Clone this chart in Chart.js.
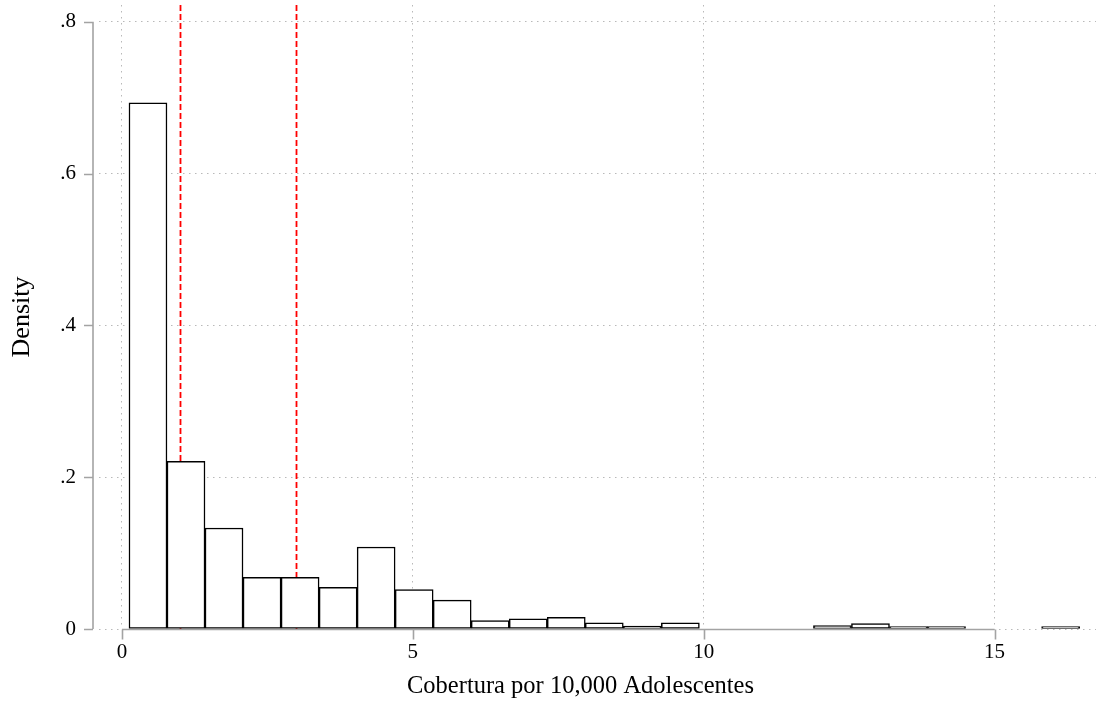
<!DOCTYPE html>
<html>
<head>
<meta charset="utf-8">
<script src="https://cdn.jsdelivr.net/npm/chart.js@4.4.1/dist/chart.umd.min.js"></script>
<style>
  html, body { margin: 0; padding: 0; background: #fff; }
  canvas { display: block; }
</style>
</head>
<body>
<canvas id="histo" width="1096" height="709"></canvas>
<script>
// bordes de las barras del histograma (25 barras de igual ancho)
const binEdges = [0.12, 0.774, 1.427, 2.081, 2.735, 3.389, 4.042, 4.696, 5.350, 6.003,
  6.657, 7.311, 7.964, 8.618, 9.272, 9.926, 10.579, 11.233, 11.887, 12.540,
  13.194, 13.848, 14.501, 15.155, 15.809, 16.463];
// densidad de cada barra (0 = sin barra)
const density = [0.693, 0.221, 0.133, 0.068, 0.068, 0.055, 0.108, 0.052, 0.038, 0.011,
  0.0135, 0.0155, 0.008, 0.004, 0.008, 0, 0, 0, 0.0044, 0.007,
  0.0022, 0.0022, 0, 0, 0.0022];

const xTicks = [0, 5, 10, 15];
const yTicks = [0, 0.2, 0.4, 0.6, 0.8];
const yTickLabels = ['0', '.2', '.4', '.6', '.8'];
const refLines = [1, 3];   // lineas rojas punteadas
const xTitle = 'Cobertura por 10,000 Adolescentes';
const yTitle = 'Density';

const serif = 'Liberation Serif';
const axisGrey = '#a3a3a3';
const gridGrey = '#b9b9b9';

// puntos de las barras: centro de cada intervalo
const bars = density.map((d, i) => ({
  x: (binEdges[i] + binEdges[i + 1]) / 2,
  y: d > 0 ? d : null
}));

// lineas de referencia (detras de las barras), ejes estilo Stata y titulo x
const stataStuff = {
  id: 'stataStuff',
  beforeDatasetsDraw(chart) {
    const { ctx, chartArea, scales: { x } } = chart;
    ctx.save();
    ctx.strokeStyle = '#ff0000';
    ctx.lineWidth = 1.8;
    ctx.setLineDash([6, 3]);
    refLines.forEach(v => {
      const px = Math.round(x.getPixelForValue(v)) + 0.5;
      ctx.beginPath();
      ctx.moveTo(px, chartArea.top);
      ctx.lineTo(px, chartArea.bottom);
      ctx.stroke();
    });
    ctx.restore();
  },
  afterDraw(chart) {
    const { ctx, chartArea, scales: { x, y } } = chart;
    ctx.save();
    ctx.strokeStyle = axisGrey;
    ctx.lineWidth = 1.6;
    ctx.setLineDash([]);

    // eje y, separado un poco del area del grafico
    const ax = chartArea.left - 6;
    ctx.beginPath();
    ctx.moveTo(ax, y.getPixelForValue(yTicks[yTicks.length - 1]));
    ctx.lineTo(ax, y.getPixelForValue(0));
    yTicks.forEach(v => {
      const py = Math.round(y.getPixelForValue(v)) + 0.5;
      ctx.moveTo(ax, py);
      ctx.lineTo(ax - 9, py);
    });
    ctx.stroke();

    // eje x
    const ay = Math.round(y.getPixelForValue(0)) + 0.5;
    ctx.beginPath();
    ctx.moveTo(x.getPixelForValue(xTicks[0]), ay);
    ctx.lineTo(x.getPixelForValue(xTicks[xTicks.length - 1]), ay);
    xTicks.forEach(v => {
      const px = Math.round(x.getPixelForValue(v)) + 0.5;
      ctx.moveTo(px, ay);
      ctx.lineTo(px, ay + 10);
    });
    ctx.stroke();

    // titulo del eje x
    ctx.fillStyle = '#000';
    ctx.font = '24.5px "' + serif + '"';
    ctx.textAlign = 'center';
    ctx.textBaseline = 'alphabetic';
    ctx.fillText(xTitle, 580.5, 693);
    ctx.restore();
  }
};

const ctx = document.getElementById('histo').getContext('2d');
const chart = new Chart(ctx, {
  type: 'bar',
  data: {
    datasets: [{
      label: yTitle,
      data: bars,
      backgroundColor: '#ffffff',
      borderColor: '#000000',
      borderWidth: 1.5,
      borderSkipped: false,
      minBarLength: 2.5,
      barPercentage: 1,
      categoryPercentage: 1
    }]
  },
  options: {
    responsive: false,
    animation: false,
    devicePixelRatio: 1,
    layout: { padding: { top: 5, left: 0, right: 0, bottom: 0 } },
    plugins: {
      legend: { display: false },
      tooltip: { enabled: false }
    },
    scales: {
      x: {
        type: 'linear',
        offset: false,
        min: -0.395,
        max: 16.744,
        afterFit: s => {
          s.height = 80;
          s.paddingLeft = 0;
          s.paddingRight = 0;
        },
        afterBuildTicks: s => { s.ticks = xTicks.map(v => ({ value: v })); },
        grid: { color: gridGrey, lineWidth: 1, drawTicks: false, offset: false },
        border: { display: false, dash: [1.5, 4.5] },
        ticks: {
          color: '#000',
          padding: 11,
          maxRotation: 0,
          font: { family: serif, size: 21 },
          callback: v => String(v)
        }
      },
      y: {
        min: 0,
        max: 0.822,
        afterFit: s => {
          s.width = 99;
          s.paddingTop = 0;
          s.paddingBottom = 0;
        },
        afterBuildTicks: s => { s.ticks = yTicks.map(v => ({ value: v })); },
        grid: { color: gridGrey, lineWidth: 1, drawTicks: false },
        border: { display: false, dash: [1.5, 4.5] },
        title: {
          display: true,
          text: yTitle,
          color: '#000',
          font: { family: serif, size: 26 },
          padding: { top: 7, bottom: 0 }
        },
        ticks: {
          color: '#000',
          padding: 23,
          font: { family: serif, size: 21 },
          callback: (v, i) => yTickLabels[i]
        }
      }
    }
  },
  plugins: [stataStuff]
});
</script>
</body>
</html>
